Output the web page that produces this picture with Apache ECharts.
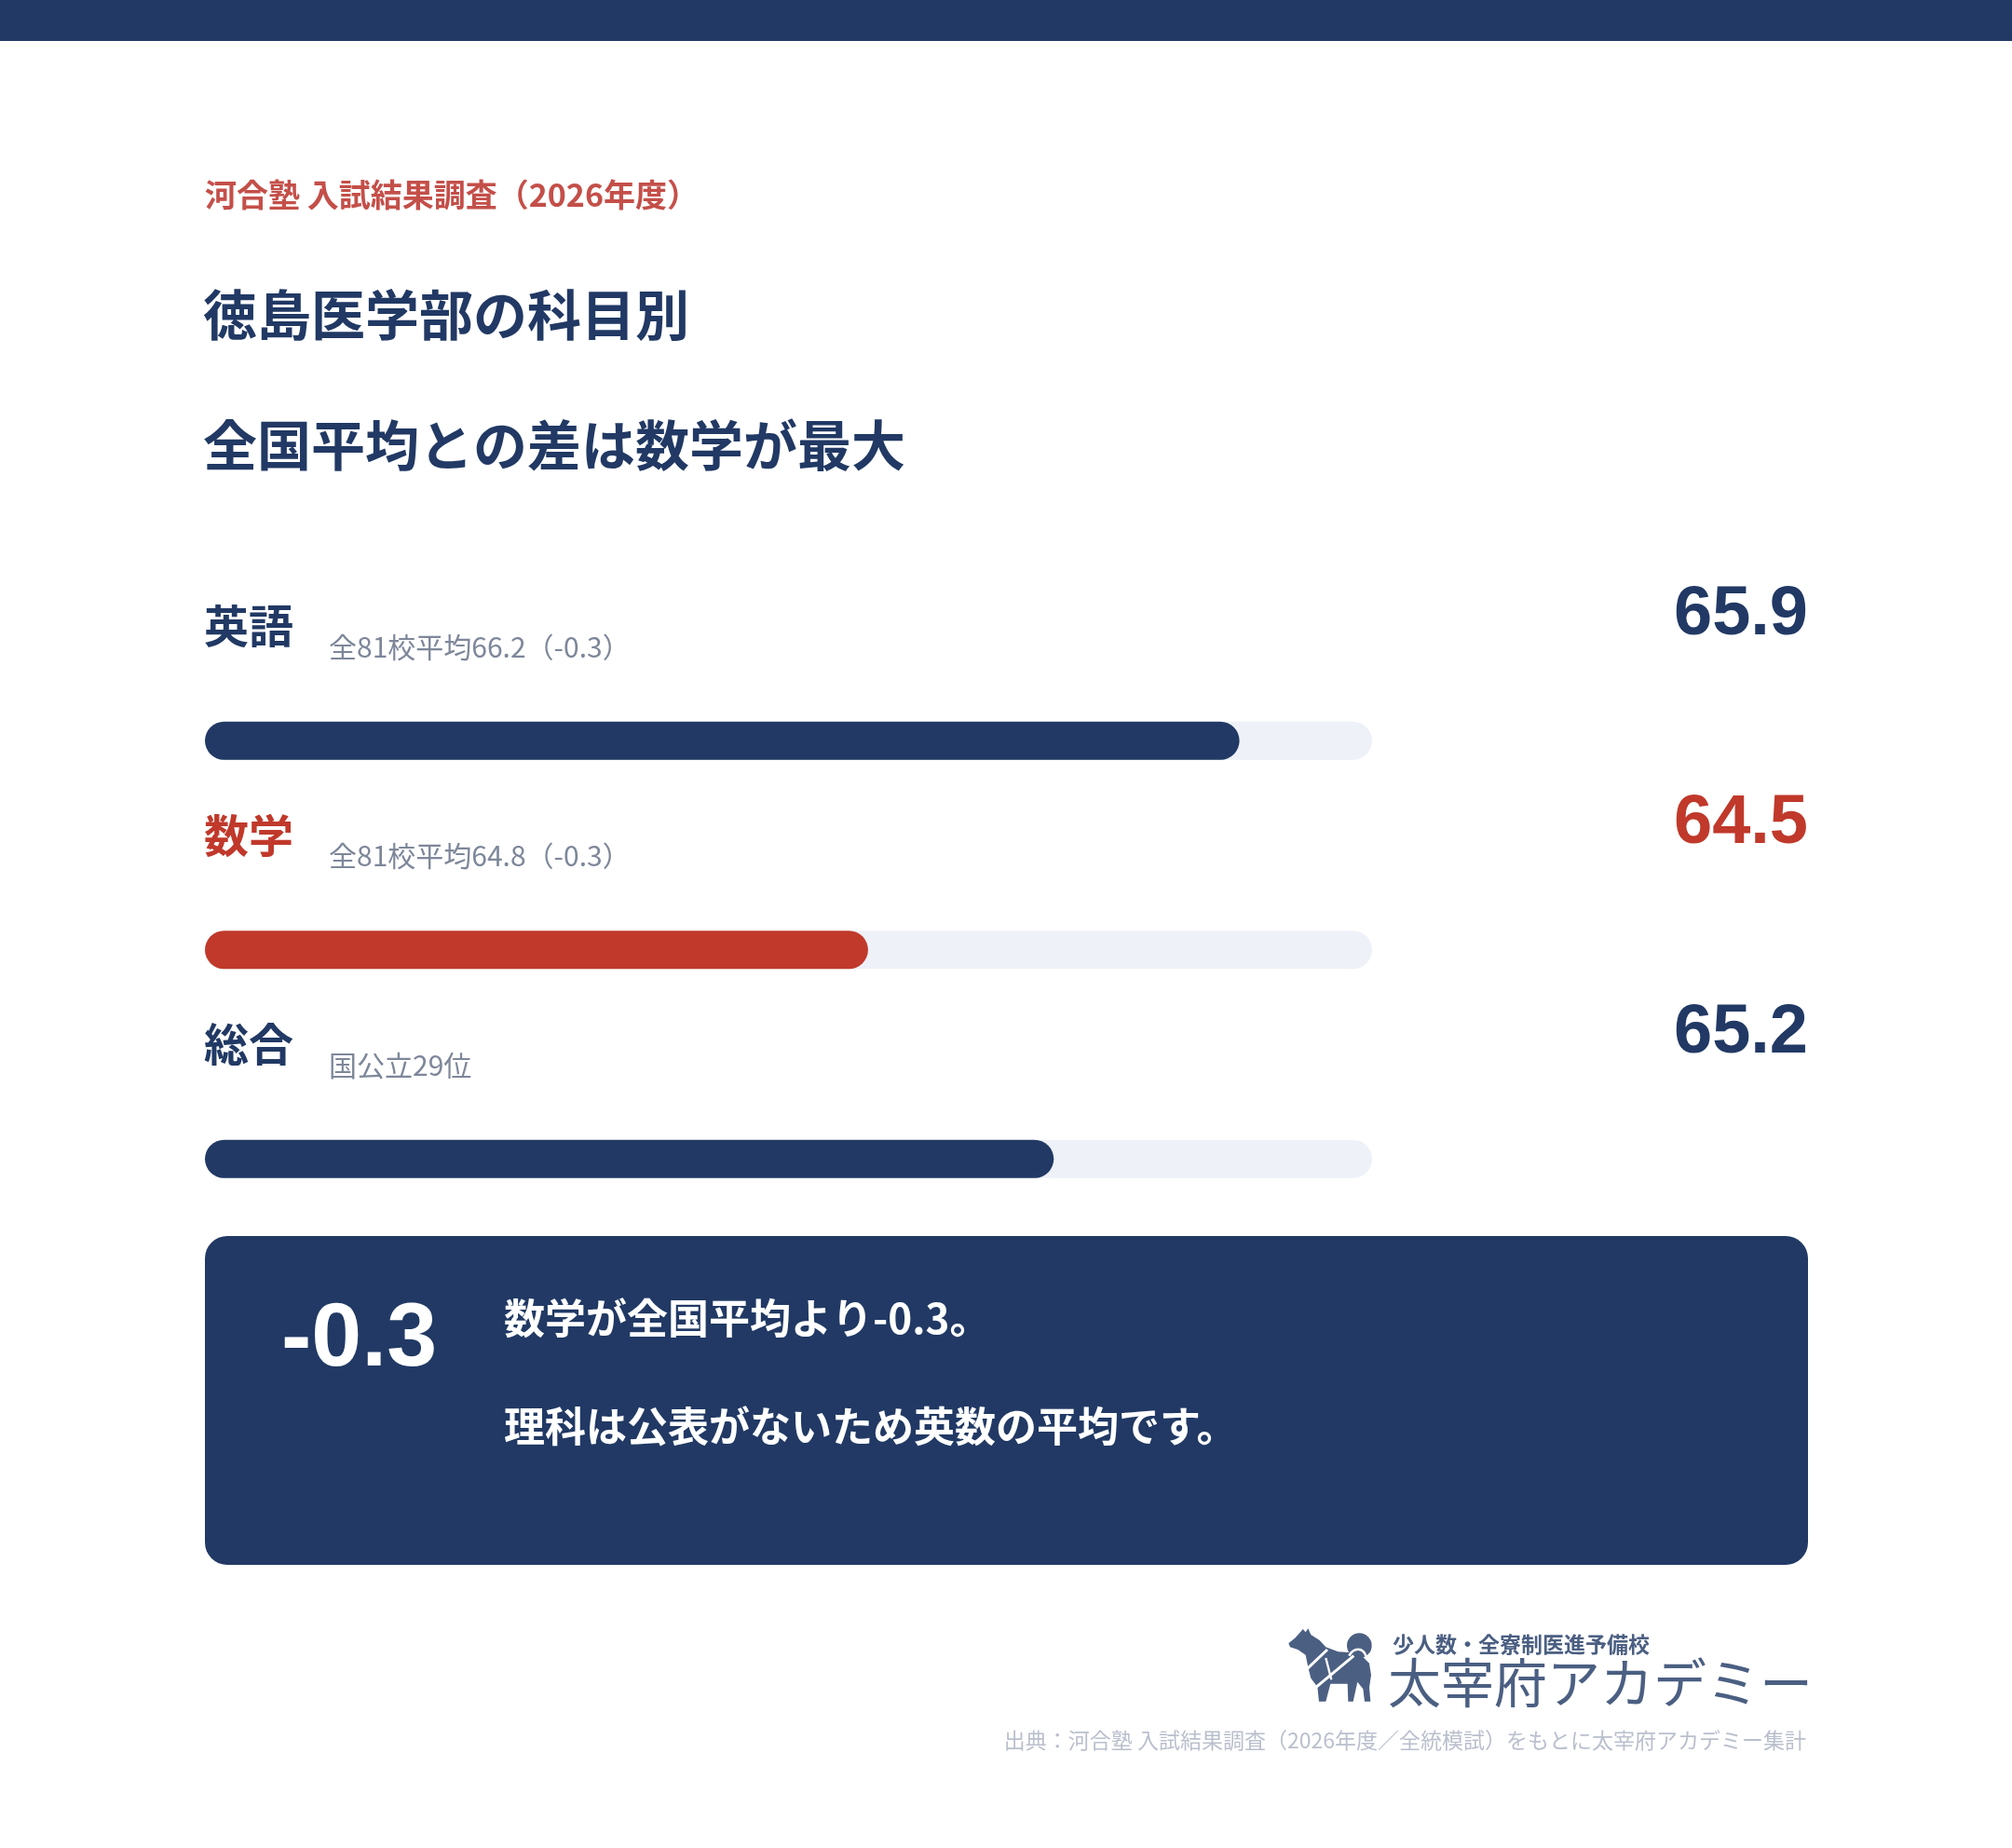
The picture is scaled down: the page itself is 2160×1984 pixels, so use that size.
<!DOCTYPE html>
<html><head><meta charset="utf-8">
<script src="https://cdn.jsdelivr.net/npm/echarts@6/dist/echarts.min.js"></script>
<style>html,body{margin:0;padding:0;background:#fff}#c{width:2160px;height:1984px}</style>
</head><body><div id="c"></div>
<script>
// ---- data ----
const categories = ['英語', '数学', '総合'];
const scores = [65.9, 64.5, 65.2];
const notes = ['全81校平均66.2（-0.3）', '全81校平均64.8（-0.3）', '国公立29位'];
const highlighted = ['数学'];
const axisMin = 62, axisMax = 66.4;
const eyebrow = '河合塾 入試結果調査（2026年度）';
const titleLines = ['徳島医学部の科目別', '全国平均との差は数学が最大'];
const calloutValue = '-0.3';
const calloutLines = ['数学が全国平均より-0.3。', '理科は公表がないため英数の平均です。'];
const brandTagline = '少人数・全寮制医進予備校';
const brandName = '太宰府アカデミー';
const sourceNote = '出典：河合塾 入試結果調査（2026年度／全統模試）をもとに太宰府アカデミー集計';

// ---- style ----
const NAVY = '#213964', RED = '#c0392b', TRACK = '#eef1f8', EYEBROW = '#c44f49';
const GRAY = '#7e879a', LOGO = '#4b5f82', SRC = '#b9bfcc';
const JP = '"Noto Sans CJK JP","Noto Sans",sans-serif';
const NUM = '"Liberation Sans",Arial,sans-serif';

const chart = echarts.init(document.getElementById('c'), null, {renderer: 'canvas'});
const gridLeft = 220, gridRight = 1473, gridTop = 683, gridH = 673.5;

chart.setOption({
  animation: false,
  backgroundColor: '#ffffff',
  grid: {left: gridLeft, top: gridTop, width: gridRight - gridLeft, height: gridH},
  xAxis: {type: 'value', min: axisMin, max: axisMax, show: false, splitLine: {show: false}},
  yAxis: {type: 'category', data: categories, inverse: true, show: false},
  series: [{
    type: 'bar',
    barWidth: 41,
    showBackground: true,
    backgroundStyle: {color: TRACK, borderRadius: 20.5},
    data: scores.map((v, i) => ({
      value: v,
      itemStyle: {color: highlighted.includes(categories[i]) ? RED : NAVY, borderRadius: 20.5}
    }))
  }]
});

function txt(x, y, text, font, fill, align, vAlign) {
  return {type: 'text', x: x, y: y, z: 10, style: {
    text: text, font: font, fill: fill,
    align: align || 'left', textAlign: align || 'left',
    verticalAlign: vAlign || 'middle', textVerticalAlign: vAlign || 'middle'
  }};
}

const g = [];
g.push({type: 'rect', shape: {x: 0, y: 0, width: 2160, height: 44}, style: {fill: NAVY}});
g.push(txt(220, 209, eyebrow, `bold 34px ${JP}`, EYEBROW));
g.push(txt(218, 338, titleLines[0], `bold 58px ${JP}`, NAVY));
g.push(txt(218, 478, titleLines[1], `bold 58px ${JP}`, NAVY));

categories.forEach((c, i) => {
  const yc = chart.convertToPixel({yAxisIndex: 0}, c);
  const col = highlighted.includes(c) ? RED : NAVY;
  g.push(txt(219, yc - 123, c, `bold 48px ${JP}`, col));
  g.push(txt(353, yc - 101, notes[i], `30px ${JP}`, GRAY));
  g.push(txt(1941, yc - 135, scores[i].toFixed(1), `bold 74px ${NUM}`, col, 'right'));
});

// callout box
g.push({type: 'rect', shape: {x: 220, y: 1327, width: 1721, height: 353, r: 24}, style: {fill: NAVY}});
g.push(txt(302, 1439, calloutValue, `bold 97px ${NUM}`, '#ffffff'));
g.push(txt(541, 1415, calloutLines[0], `bold 44px ${JP}`, '#ffffff'));
g.push(txt(541, 1531, calloutLines[1], `bold 44px ${JP}`, '#ffffff'));

// logo dog
const dogPts = [[40,88],[62,70],[78,52],[86,42],[95,52],[103,40],[112,60],[140,78],[160,100],[200,115],[245,118],[280,132],[300,152],[306,190],[300,230],[304,275],[285,275],[280,235],[262,212],[248,275],[232,275],[230,218],[175,218],[160,275],[138,275],[133,228],[112,200],[103,165],[95,125],[70,108],[45,100]];
g.push({type: 'group', x: 1370, y: 1735, scaleX: 1/3, scaleY: 1/3, children: [
  {type: 'circle', shape: {cx: 268, cy: 95, r: 40}, style: {fill: LOGO}},
  {type: 'polygon', shape: {points: dogPts}, style: {fill: LOGO}},
  {type: 'line', shape: {x1: 100, y1: 170, x2: 165, y2: 108}, style: {stroke: '#fff', lineWidth: 9}},
  {type: 'line', shape: {x1: 125, y1: 232, x2: 250, y2: 128}, style: {stroke: '#fff', lineWidth: 9}},
  {type: 'line', shape: {x1: 160, y1: 135, x2: 178, y2: 205}, style: {stroke: '#fff', lineWidth: 7}},
  {type: 'bezierCurve', shape: {x1: 235, y1: 128, cpx1: 250, cpy1: 100, cpx2: 280, cpy2: 100, x2: 290, y2: 130}, style: {stroke: '#fff', lineWidth: 8, fill: null}}
]});
g.push(txt(1495, 1765, brandTagline, `bold 23px ${JP}`, LOGO));
g.push(txt(1490, 1806, brandName, `57px ${JP}`, LOGO));
g.push(txt(1939, 1868, sourceNote, `23px ${JP}`, SRC, 'right'));

chart.setOption({graphic: {elements: g}});
</script></body></html>
